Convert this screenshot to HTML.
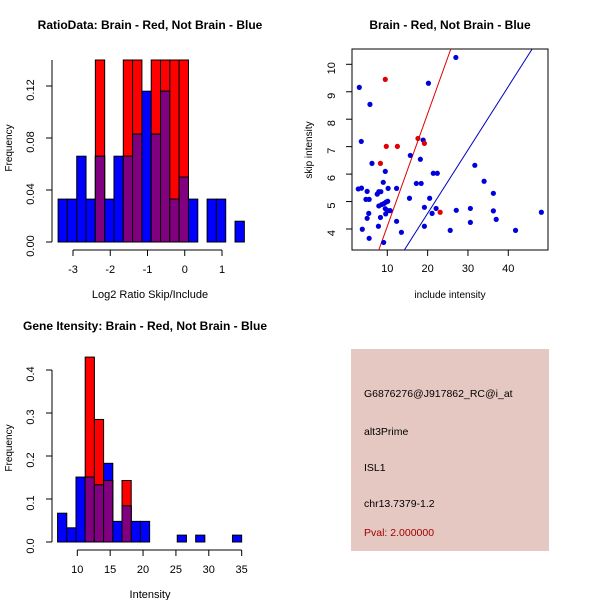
<!DOCTYPE html>
<html><head><meta charset="utf-8"><style>
body{margin:0;background:#fff;}
svg{display:block;font-family:"Liberation Sans",sans-serif;}
</style></head><body>
<svg id="s" width="600" height="600" xmlns="http://www.w3.org/2000/svg">
<text x="150" y="29" text-anchor="middle" font-size="12" font-weight="bold">RatioData: Brain - Red, Not Brain - Blue</text>
<text x="450" y="29" text-anchor="middle" font-size="12" font-weight="bold">Brain - Red, Not Brain - Blue</text>
<text x="145" y="330" text-anchor="middle" font-size="12" font-weight="bold">Gene Itensity: Brain - Red, Not Brain - Blue</text>
<rect x="351" y="349" width="198" height="202" fill="#e6c8c2"/>
<g font-size="10.5">
<text x="364" y="397">G6876276@J917862_RC@i_at</text>
<text x="364" y="435">alt3Prime</text>
<text x="364" y="471">ISL1</text>
<text x="364" y="507">chr13.7379-1.2</text>
<text x="364" y="536" fill="#a00000">Pval: 2.000000</text>
</g>
</svg>
<script>
// Ratio histogram
const ratioStart = -3.4, ratioWidth = 0.25;
const ratioBlue = [0.033,0.033,0.066,0.033,0.066,0.033,0.066,0.066,0.083,0.116,0.083,0.116,0.033,0.05,0.033,0,0.033,0.033,0,0.016];
const ratioRed  = [0,0,0,0,0.14,0,0,0.14,0.14,0,0.14,0.14,0.14,0.14,0,0,0,0,0,0];
const ratioXTicks = [-3,-2,-1,0,1];
const ratioYTicks = ["0.00","0.04","0.08","0.12"];
// Intensity histogram
const intStart = 7, intWidth = 1.4;
const intBlue = [0.067,0.033,0.151,0.151,0.133,0.183,0.048,0.084,0.048,0.048,0,0,0,0.016,0,0.016,0,0,0,0.016];
const intRed  = [0,0,0,0.43,0.285,0.143,0,0.143,0,0,0,0,0,0,0,0,0,0,0,0];
const intXTicks = [10,15,20,25,30,35];
const intYTicks = ["0.0","0.1","0.2","0.3","0.4"];
// Scatter
const blueX=[3.06,27,5.7,20.2,3.55,18.9,6.2,9.5,15.7,18.2,31.7,21.4,22.4,34.0,2.8,3.6,5.0,9.0,10.2,12.3,17.2,18.4,7.5,7.9,8.4,36.3,4.7,5.5,15.5,20.5,7.9,8.6,9.2,9.7,10.1,19.2,22.1,30.6,9.5,10.1,10.7,5.4,9.6,21.1,27.1,36.3,48.2,5.0,8.3,37.0,12.3,30.6,3.8,7.8,19.2,13.5,25.6,41.8,5.5,9.1];
const blueY=[9.16,10.25,8.54,9.31,7.19,7.24,6.39,6.10,6.68,6.54,6.32,6.03,6.03,5.74,5.46,5.49,5.37,5.70,5.48,5.48,5.66,5.66,5.27,5.36,5.36,5.30,5.08,5.08,5.12,5.12,4.84,4.89,4.93,4.98,5.01,4.79,4.75,4.75,4.74,4.67,4.67,4.57,4.55,4.57,4.68,4.66,4.61,4.39,4.42,4.35,4.28,4.24,3.99,4.10,4.10,3.88,3.95,3.95,3.66,3.51];
const redX=[9.5,9.75,12.5,17.6,19.2,8.3,23.1];
const redY=[9.45,7.01,7.01,7.30,7.12,6.39,4.61];
const redLine=[0,0.41];   // intercept, slope
const blueLine=[-0.05,0.231];
const scXTicks=[10,20,30,40];
const scYTicks=[4,5,6,7,8,9,10];

const svg=document.getElementById('s');
const NS="http://www.w3.org/2000/svg";
function mk(tag,attrs,parent){const e=document.createElementNS(NS,tag);for(const k in attrs)e.setAttribute(k,attrs[k]);(parent||svg).appendChild(e);return e;}
function txt(x,y,s,anchor,rot,size){const t=mk('text',{x:x,y:y,'text-anchor':anchor||'middle','font-size':size||11});if(rot)t.setAttribute('transform','rotate(-90 '+x+' '+y+')');t.textContent=s;return t;}

function hist(blue,red,start,w,sx,sy,name){
  const g=mk('g',{});
  
  
  for(let i=0;i<blue.length;i++){
    const x0=sx(start+i*w),x1=sx(start+(i+1)*w);
    const b=blue[i],r=red[i];
    if(r>0){const e=mk('rect',{x:x0,y:sy(r),width:x1-x0,height:sy(0)-sy(r),fill:'#ff0000',stroke:'#000','stroke-width':1},g);
      
      }
    if(b>0){const e=mk('rect',{x:x0,y:sy(b),width:x1-x0,height:sy(0)-sy(b),fill:'#0000ff',stroke:'#000','stroke-width':1},g);
      
      }
    const m=Math.min(b,r);
    if(m>0){const e=mk('rect',{x:x0,y:sy(m),width:x1-x0,height:sy(0)-sy(m),fill:'#800080',stroke:'#000','stroke-width':1},g);
      
      }
  }
}

// Ratio panel
{
  const sx=v=>73+(v+3)*37.25, sy=v=>242-v*1300;
  hist(ratioBlue,ratioRed,ratioStart,ratioWidth,sx,sy,'ratio');
  mk('line',{x1:52,x2:52,y1:sy(0),y2:60,stroke:'#000'});
  ratioYTicks.forEach(t=>{const y=sy(parseFloat(t));mk('line',{x1:46,x2:52,y1:y,y2:y,stroke:'#000'});txt(34,y+4,t,'middle',true,11);});
  mk('line',{x1:sx(-3),x2:sx(1),y1:250,y2:250,stroke:'#000'});
  ratioXTicks.forEach(t=>{const x=sx(t);mk('line',{x1:x,x2:x,y1:250,y2:256,stroke:'#000'});txt(x,273,String(t));});
  txt(150,298,'Log2 Ratio Skip/Include');
  txt(12,148,'Frequency','middle',true,10);
}
// Intensity panel
{
  const sx=v=>77.3+(v-10)*6.575, sy=v=>542-v*430;
  hist(intBlue,intRed,intStart,intWidth,sx,sy,'intensity');
  mk('line',{x1:52,x2:52,y1:sy(0),y2:sy(0.4),stroke:'#000'});
  intYTicks.forEach(t=>{const y=sy(parseFloat(t));mk('line',{x1:46,x2:52,y1:y,y2:y,stroke:'#000'});txt(34,y+4,t,'middle',true,11);});
  mk('line',{x1:sx(10),x2:sx(35),y1:550,y2:550,stroke:'#000'});
  intXTicks.forEach(t=>{const x=sx(t);mk('line',{x1:x,x2:x,y1:550,y2:556,stroke:'#000'});txt(x,573,String(t));});
  txt(150,598,'Intensity');
  txt(12,448,'Frequency','middle',true,10);
}
// Scatter panel
{
  const sx=v=>387.3+(v-10)*4.033, sy=v=>229-(v-4)*27.45;
  mk('rect',{x:352,y:49,width:196,height:201,fill:'none',stroke:'#000'});
  const cp=mk('clipPath',{id:'cp'});mk('rect',{x:352,y:49,width:196,height:201},cp);
  const g=mk('g',{'clip-path':'url(#cp)'});
  [[redLine,'#e00000','red-fit-line'],[blueLine,'#0000c0','blue-fit-line']].forEach(([L,c,n])=>{
    const e=mk('line',{x1:sx(0),y1:sy(L[0]),x2:sx(60),y2:sy(L[0]+L[1]*60),stroke:c,'stroke-width':1},g);
    
    
  });
  blueX.forEach((x,i)=>{const e=mk('circle',{cx:sx(x),cy:sy(blueY[i]),r:2.6,fill:'#0000dd'},g);
    
    });
  redX.forEach((x,i)=>{const e=mk('circle',{cx:sx(x),cy:sy(redY[i]),r:2.6,fill:'#e00000'},g);
    
    });
  scXTicks.forEach(t=>{const x=sx(t);mk('line',{x1:x,x2:x,y1:250,y2:256,stroke:'#000'});txt(x,272,String(t));});
  scYTicks.forEach(t=>{const y=sy(t);mk('line',{x1:346,x2:352,y1:y,y2:y,stroke:'#000'});txt(335,y+4,String(t),'middle',true,11);});
  txt(450,298,'include intensity','middle',false,10);
  txt(312,150,'skip intensity','middle',true,10);
}
</script>
</body></html>
